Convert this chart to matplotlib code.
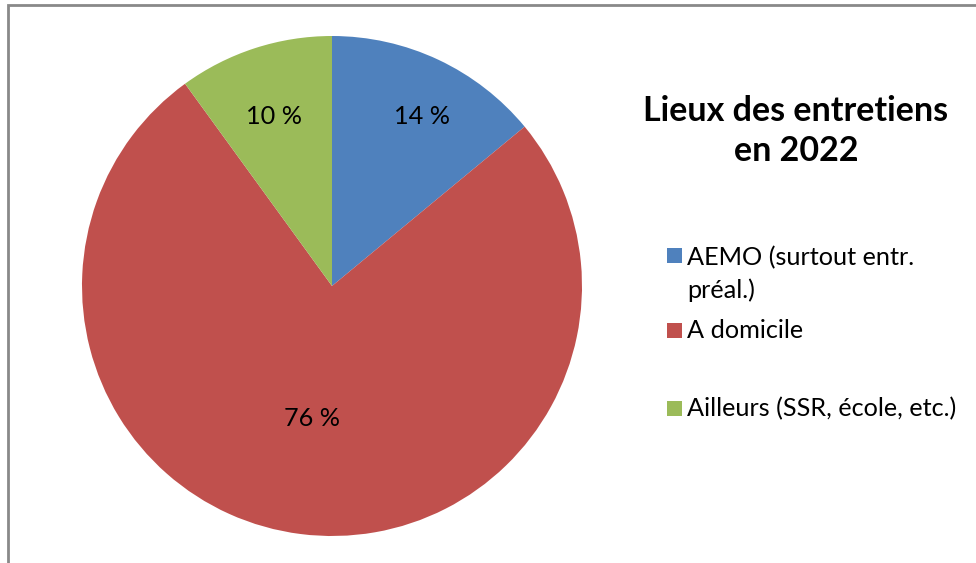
import matplotlib
matplotlib.use("Agg")
import matplotlib.pyplot as plt
from matplotlib.patches import Rectangle

categories = ["AEMO (surtout entr.\npréal.)", "A domicile", "Ailleurs (SSR, école, etc.)"]
values = [14, 76, 10]
value_labels = ["14 %", "76 %", "10 %"]
colors = ["#4F81BD", "#C0504D", "#9BBB59"]
title = "Lieux des entretiens\nen 2022"

plt.rcParams['font.family'] = ['Lato', 'DejaVu Sans']

W, H = 976, 563
fig = plt.figure(figsize=(W / 100, H / 100), dpi=100)

def fx(x):
    return x / W

def fy(y):
    return 1 - y / H

# border
fig.patches.append(Rectangle((fx(8), fy(600)), fx(1100), 595 / H, transform=fig.transFigure,
                             fill=False, edgecolor="#898989", linewidth=2))

ax = fig.add_axes([fx(82), fy(536), 500 / W, 500 / H])
wedges, _ = ax.pie(values, colors=colors, startangle=90, counterclock=False,
                   radius=1.0, wedgeprops=dict(linewidth=0))
ax.set_xlim(-1, 1)
ax.set_ylim(-1, 1)
ax.set_aspect('equal')
ax.axis('off')

# value labels (positions in axes-data units relative to pie center)
label_pos = [(0.36, 0.68), (-0.08, -0.53), (-0.23, 0.68)]
for (x, y), t in zip(label_pos, value_labels):
    ax.text(x, y, t, ha='center', va='center', fontsize=18.2, color='black')

fig.text(fx(796), fy(131), title, ha='center', va='center', fontsize=24.5,
         fontweight='bold', linespacing=1.32)

leg_y = [256, 331, 409]
text_y = [274, 331, 409]
for yy, ty, lab, c in zip(leg_y, text_y, categories, colors):
    fig.patches.append(Rectangle((fx(667), fy(yy + 7)), 15 / W, 15 / H,
                                 transform=fig.transFigure, facecolor=c, edgecolor='none'))
    fig.text(fx(687), fy(ty), lab, ha='left', va='center',
             fontsize=18.2, linespacing=1.42)

fig.savefig("out.png", dpi=100)
